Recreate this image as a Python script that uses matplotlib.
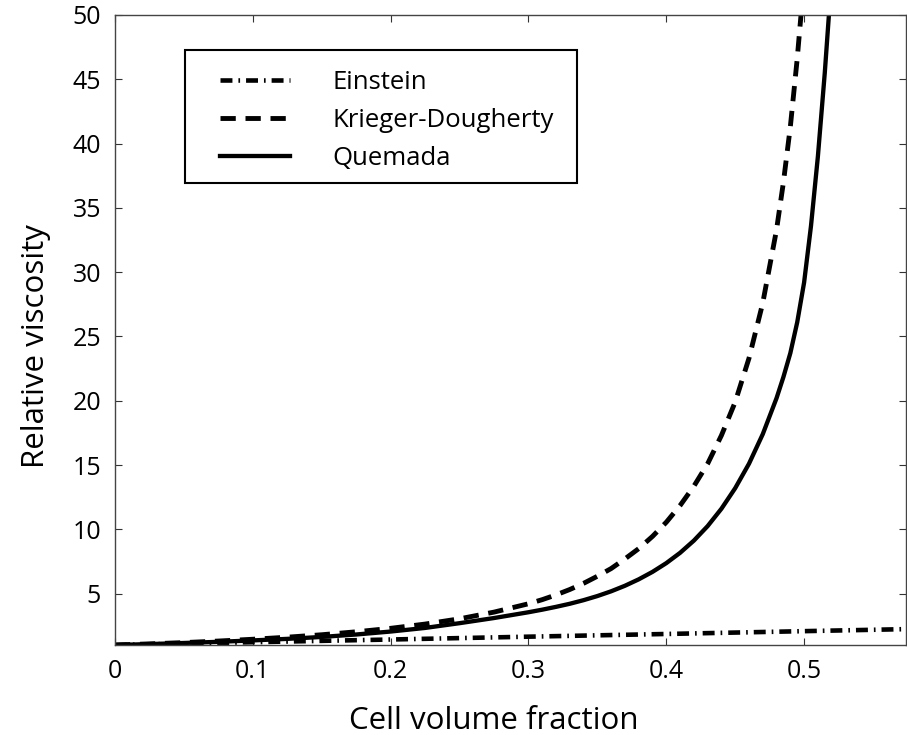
import matplotlib
matplotlib.use('Agg')
import matplotlib.pyplot as plt
from matplotlib.patches import Rectangle

plt.rcParams['font.family'] = ['Open Sans', 'DejaVu Sans']
plt.rcParams['lines.scale_dashes'] = False

# values
phi_einstein = [0.0, 0.1, 0.2, 0.3, 0.4, 0.5, 0.58]
eta_einstein = [1.0, 1.22, 1.43, 1.65, 1.86, 2.08, 2.25]

phi_kd = [0.0, 0.025, 0.05, 0.075, 0.10, 0.125, 0.15, 0.175, 0.20, 0.225, 0.25, 0.275,
          0.30, 0.31, 0.32, 0.33, 0.34, 0.35, 0.36, 0.37, 0.38, 0.39, 0.40, 0.41,
          0.42, 0.43, 0.44, 0.45, 0.46, 0.47, 0.48, 0.485, 0.49, 0.495, 0.50]
eta_kd = [1.0, 1.09, 1.19, 1.31, 1.45, 1.61, 1.80, 2.03, 2.30, 2.63, 3.04, 3.56,
          4.21, 4.53, 4.90, 5.32, 5.80, 6.35, 6.95, 7.70, 8.50, 9.45, 10.55, 11.85,
          13.35, 15.1, 17.3, 19.9, 23.3, 27.6, 33.3, 37.0, 41.3, 46.6, 52.8]

phi_q = [0.0, 0.025, 0.05, 0.075, 0.10, 0.125, 0.15, 0.175, 0.20, 0.225, 0.25, 0.275,
         0.30, 0.31, 0.32, 0.33, 0.34, 0.35, 0.36, 0.37, 0.38, 0.39, 0.40, 0.41,
         0.42, 0.43, 0.44, 0.45, 0.46, 0.47, 0.48, 0.485, 0.49, 0.495, 0.50, 0.505,
         0.51, 0.515, 0.52]
eta_q = [1.0, 1.075, 1.16, 1.25, 1.36, 1.48, 1.63, 1.82, 2.05, 2.33, 2.70, 3.10,
         3.55, 3.75, 3.97, 4.21, 4.49, 4.81, 5.18, 5.61, 6.11, 6.69, 7.37, 8.17,
         9.12, 10.25, 11.6, 13.2, 15.1, 17.4, 20.2, 21.85, 23.7, 26.1, 29.2, 33.6,
         39.0, 45.5, 53.0]

labels = ['Einstein', 'Krieger-Dougherty', 'Quemada']

fig = plt.figure(figsize=(9.07, 7.35), dpi=100)
ax = fig.add_axes([0.1268, 0.1224, 0.8722, 0.8572])

ax.plot(phi_einstein, eta_einstein, color='black', lw=3.3,
        linestyle=(0, (8.6, 4.3, 1.2, 4.3)), label=labels[0])
ax.plot(phi_kd, eta_kd, color='black', lw=3.5,
        linestyle=(0, (11.0, 7.0)), label=labels[1])
ax.plot(phi_q, eta_q, color='black', lw=3.1, label=labels[2],
        solid_joinstyle='round')

ax.set_xlim(0, 0.574)
ax.set_ylim(1, 50)
ax.set_xticks([0, 0.1, 0.2, 0.3, 0.4, 0.5])
ax.set_xticklabels(['0', '0.1', '0.2', '0.3', '0.4', '0.5'])
ax.set_yticks([5, 10, 15, 20, 25, 30, 35, 40, 45, 50])
ax.tick_params(direction='in', top=True, right=True, length=5, width=0.8,
               labelsize=18, pad=10, color='#333333')
for s in ax.spines.values():
    s.set_linewidth(1.0)
    s.set_color('#444444')

ax.set_xlabel('Cell volume fraction', fontsize=22.5)
ax.set_ylabel('Relative viscosity', fontsize=22.5)
ax.xaxis.set_label_coords(0.479, -0.097)
ax.yaxis.set_label_coords(-0.081, 0.4746)

# legend without its own frame, box drawn separately
leg = ax.legend(loc='upper left', bbox_to_anchor=(0.1326, 0.9127), borderaxespad=0,
                fontsize=18.5, handlelength=2.72, handletextpad=1.67, labelspacing=0.5,
                borderpad=0, frameon=False)
ax.add_patch(Rectangle((0.0884, 0.7333), 0.4962, 0.2111, transform=ax.transAxes,
                       fill=False, edgecolor='black', lw=1.5, zorder=4))

fig.savefig('out.png', dpi=100)
